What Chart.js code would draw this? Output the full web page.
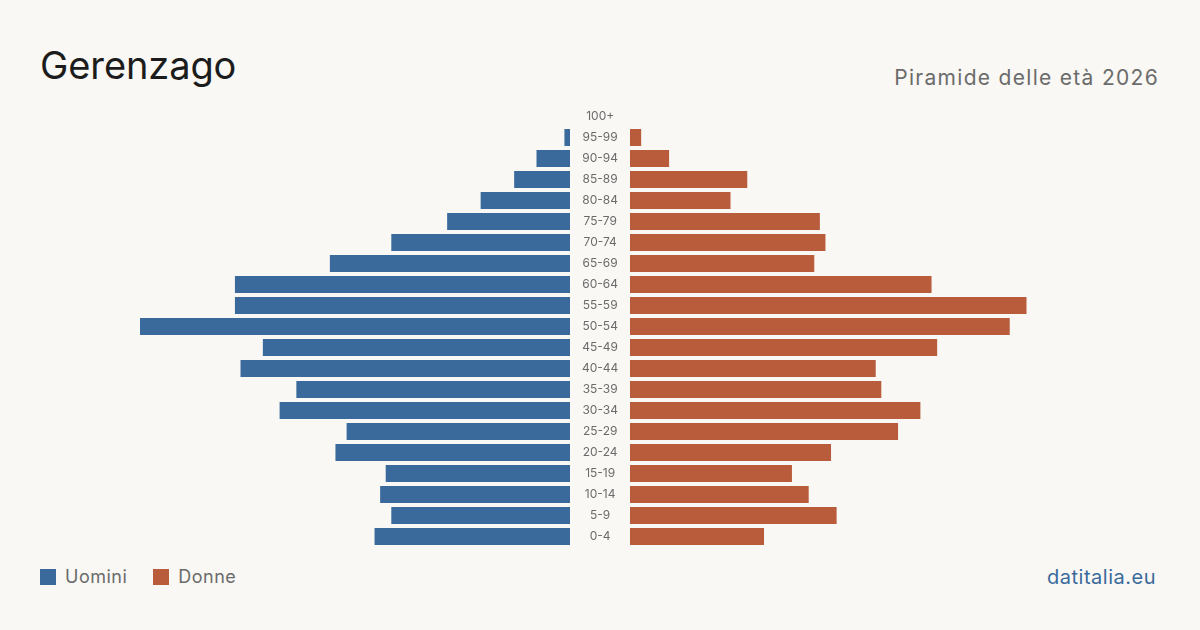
<!DOCTYPE html>
<html><head><meta charset="utf-8">
<script src="https://cdn.jsdelivr.net/npm/chart.js@4/dist/chart.umd.min.js"></script>
<style>
html,body{margin:0;padding:0;background:#f9f8f4;width:1200px;height:630px;overflow:hidden;font-family:Inter,"Noto Sans",sans-serif;}
#title{position:absolute;left:40px;top:46px;font-size:38px;color:#1c1c1c;line-height:1;letter-spacing:-0.1px;}
#sub{position:absolute;right:41px;top:67px;font-size:21px;color:#6b6b6b;line-height:1;letter-spacing:1.3px;}
#legend{position:absolute;left:40px;top:566px;font-size:18px;color:#6b6b6b;display:flex;align-items:center;letter-spacing:0.5px;}
.sw{display:inline-block;width:16px;height:16px;margin-right:9px;}
#brand{position:absolute;right:44px;top:565px;font-size:20px;color:#3a6a9c;letter-spacing:0.5px;}
#lw{position:absolute;left:140px;top:106px;width:490px;height:441px;}
#rw{position:absolute;left:630px;top:106px;width:430px;height:441px;}
</style></head><body>
<div id="title">Gerenzago</div>
<div id="sub">Piramide delle età 2026</div>
<div id="legend"><span class="sw" style="background:#3a6a9c"></span><span style="margin-right:26px">Uomini</span><span class="sw" style="background:#b85c3c"></span><span>Donne</span></div>
<div id="brand">datitalia.eu</div>
<div id="lw"><canvas id="left" width="490" height="441"></canvas></div>
<div id="rw"><canvas id="right" width="430" height="441"></canvas></div>
<script>
const ageGroups = ["100+","95-99","90-94","85-89","80-84","75-79","70-74","65-69","60-64","55-59","50-54","45-49","40-44","35-39","30-34","25-29","20-24","15-19","10-14","5-9","0-4"];
const men   = [0,1,6,10,16,22,32,43,60,60,77,55,59,49,52,40,42,33,34,32,35];
const women = [0,2,7,21,18,34,35,33,54,71,68,55,44,45,52,48,36,29,32,37,24];
const axisMax = Math.max(...men, ...women);

const common = {
  responsive:false, animation:false, indexAxis:'y',
  layout:{padding:0, autoPadding:false},
  plugins:{legend:{display:false}, tooltip:{enabled:false}},
};

new Chart(document.getElementById('left'), {
  type:'bar',
  data:{labels:ageGroups, datasets:[{label:'Uomini', data:men, backgroundColor:'#3a6a9c', barPercentage:0.81, categoryPercentage:1}]},
  options:{...common,
    scales:{
      x:{display:false, reverse:true, min:0, max:axisMax},
      y:{position:'right', grid:{display:false, tickLength:12}, border:{display:false},
         afterFit(s){s.width=60; s.paddingTop=0; s.paddingBottom=0; s.paddingLeft=0; s.paddingRight=0;},
         ticks:{crossAlign:'center', padding:0, color:'#6b6b6b', font:{family:'Inter', size:12}}}
    }}
});
new Chart(document.getElementById('right'), {
  type:'bar',
  data:{labels:ageGroups, datasets:[{label:'Donne', data:women, backgroundColor:'#b85c3c', barPercentage:0.81, categoryPercentage:1}]},
  options:{...common,
    scales:{
      x:{display:false, min:0, max:axisMax},
      y:{display:false}
    }}
});
</script>
</body></html>
